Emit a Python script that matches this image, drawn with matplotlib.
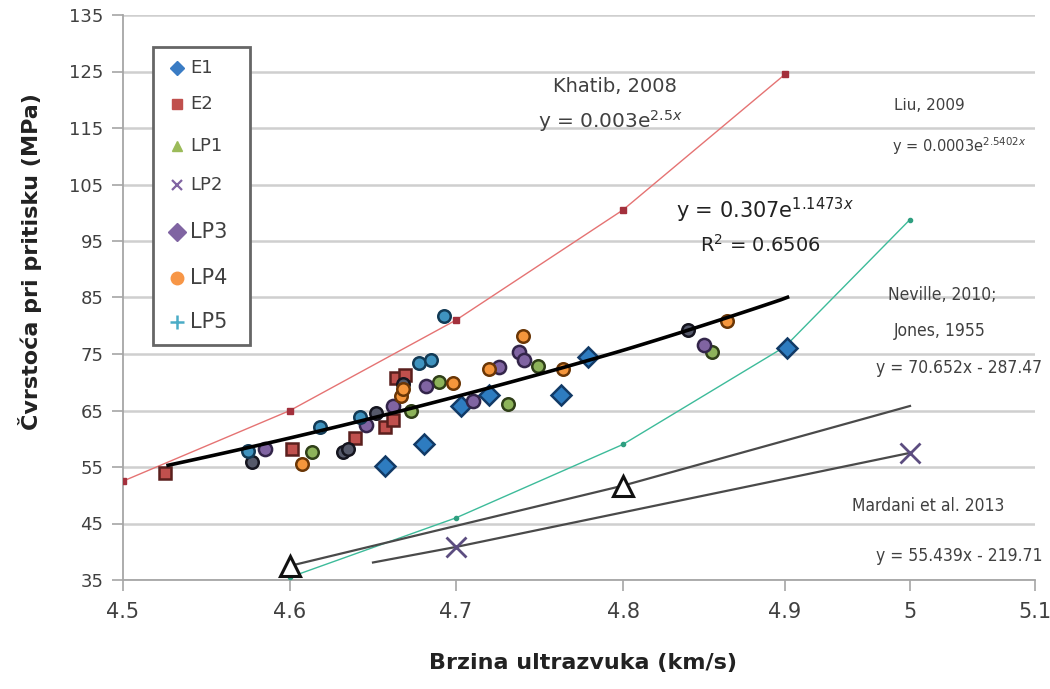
import matplotlib
matplotlib.use("Agg")
import matplotlib.pyplot as plt
from matplotlib.lines import Line2D
from matplotlib.patches import Rectangle
import numpy as np

# ---------------- data ----------------
e1_x = [4.657, 4.681, 4.703, 4.720, 4.763, 4.779, 4.902]
e1_y = [55.1, 59.0, 65.8, 67.7, 67.7, 74.5, 76.0]

e2_x = [4.525, 4.601, 4.639, 4.657, 4.662, 4.664, 4.669]
e2_y = [54.0, 58.1, 60.1, 62.0, 63.4, 70.8, 71.3]

lp1_x = [4.613, 4.673, 4.690, 4.731, 4.749, 4.855]
lp1_y = [57.6, 65.0, 70.0, 66.1, 72.8, 75.3]

lp2_x = [4.577, 4.632, 4.635, 4.652, 4.668, 4.840]
lp2_y = [55.8, 57.6, 58.1, 64.5, 69.7, 79.3]

lp3_x = [4.585, 4.646, 4.662, 4.682, 4.710, 4.726, 4.738, 4.741, 4.850]
lp3_y = [58.2, 62.5, 65.8, 69.4, 66.6, 72.7, 75.3, 73.9, 76.6]

lp4_x = [4.607, 4.667, 4.668, 4.698, 4.720, 4.740, 4.764, 4.864]
lp4_y = [55.5, 67.5, 68.8, 69.9, 72.4, 78.2, 72.3, 80.9]

lp5_x = [4.575, 4.618, 4.642, 4.678, 4.685, 4.693]
lp5_y = [57.8, 62.1, 63.9, 73.4, 74.0, 81.8]

khatib_x = [4.5, 4.6, 4.7, 4.8, 4.9]
khatib_y = [52.5, 65.0, 81.0, 100.5, 124.5]

liu_x = [4.6, 4.7, 4.8, 4.9, 5.0]
liu_y = [35.5, 46.0, 59.0, 76.3, 98.8]

neville_x = [4.6, 4.8, 5.0]
neville_y = [37.5, 51.7, 65.8]

mardani_x = [4.65, 4.7, 5.0]
mardani_y = [38.1, 40.85, 57.5]

trend_a, trend_b = 0.307, 1.1473
trend_x_range = [4.527, 4.902]

x_ticks = [4.5, 4.6, 4.7, 4.8, 4.9, 5.0, 5.1]
x_tick_labels = ["4.5", "4.6", "4.7", "4.8", "4.9", "5", "5.1"]
y_ticks = [35, 45, 55, 65, 75, 85, 95, 105, 115, 125, 135]

legend_labels = ["E1", "E2", "LP1", "LP2", "LP3", "LP4", "LP5"]

# ---------------- layout ----------------
W, H = 1050, 689
# horizontal axis of the original picture is not evenly spaced: tick pixel positions
x_scale_px = [123, 290, 456, 623, 785, 910, 1035]


def fx(px):
    return px / W


def fy(py):
    return 1 - py / H


def fwd(x):
    return np.interp(x, x_ticks, x_scale_px)


def inv(p):
    return np.interp(p, x_scale_px, x_ticks)


fig = plt.figure(figsize=(W/100, H/100), dpi=100)
ax = fig.add_axes([fx(123), fy(580), (1035-123)/W, (580-15)/H])
ax.set_xscale("function", functions=(fwd, inv))
ax.set_xlim(4.5, 5.1)
ax.set_ylim(35, 135)
ax.set_yticks(y_ticks)
ax.set_xticks(x_ticks)
ax.set_xticklabels(x_tick_labels)
ax.xaxis.set_minor_locator(matplotlib.ticker.NullLocator())
ax.yaxis.grid(True, color="#cfcfcf", linewidth=1.8)
ax.set_axisbelow(True)
for s in ["top", "right"]:
    ax.spines[s].set_visible(False)
for s in ["left", "bottom"]:
    ax.spines[s].set_color("#a6a6a6")
    ax.spines[s].set_linewidth(1.3)
ax.tick_params(axis="both", direction="out", length=8, width=1.2, color="#a6a6a6",
               labelcolor="#404040")
ax.tick_params(axis="y", labelsize=13, pad=6)
ax.tick_params(axis="x", labelsize=15, pad=8)

# reference curves
ax.plot(khatib_x, khatib_y, color="#e57373", lw=1.0, marker="s", ms=4,
        mfc="#a3303c", mec="#a3303c", zorder=3)
ax.plot(liu_x, liu_y, color="#3dbb9a", lw=1.0, marker="o", ms=3,
        mfc="#2f9f80", mec="#2f9f80", zorder=3)
ax.plot(neville_x, neville_y, color="#4a4a4a", lw=1.6, zorder=3)
ax.plot(neville_x[:2], neville_y[:2], ls="none", marker="^", ms=15, mfc="white",
        mec="#111111", mew=2.2, zorder=4)
ax.plot(mardani_x, mardani_y, color="#4a4a4a", lw=1.6, zorder=3)
ax.plot(mardani_x[1:], mardani_y[1:], ls="none", marker="x", ms=15, mec="#5c4d80",
        mew=2.0, zorder=4)

# measured data
series = [
    (e1_x, e1_y, "D", "#2e7cc0", "#123a66", 10),
    (e2_x, e2_y, "s", "#c0504d", "#5a1f1d", 9),
    (lp1_x, lp1_y, "o", "#8db35a", "#2f3f18", 9),
    (lp2_x, lp2_y, "o", "#55596a", "#15151f", 9),
    (lp3_x, lp3_y, "o", "#8064a2", "#33254a", 9.5),
    (lp4_x, lp4_y, "o", "#f5963c", "#6a3606", 9),
    (lp5_x, lp5_y, "o", "#3f93bf", "#123a55", 9),
]
for xs, ys, m, fc, ec, ms in series:
    ax.plot(xs, ys, ls="none", marker=m, ms=ms, mfc=fc, mec=ec, mew=1.8, zorder=5)

# trendline from the equation shown on the chart
tx = np.linspace(trend_x_range[0], trend_x_range[1], 80)
ax.plot(tx, trend_a*np.exp(trend_b*tx), color="black", lw=2.6, zorder=6)

# legend box (drawn by hand to follow the uneven row spacing of the original)
fig.add_artist(Rectangle((fx(153), fy(345)), (250-153)/W, (345-47)/H,
                         transform=fig.transFigure, facecolor="white",
                         edgecolor="#666666", linewidth=2.0, zorder=5))
leg_rows = [68, 104, 146, 185, 232, 278, 322]
leg_style = [
    dict(marker="D", ms=7, color="#3a7cc4", mew=1),
    dict(marker="s", ms=7, color="#c0504d", mew=1),
    dict(marker="^", ms=7, color="#9bbb59", mew=1),
    dict(marker="x", ms=7, color="#8064a2", mew=1.6),
    dict(marker="D", ms=9, color="#8064a2", mew=1),
    dict(marker="o", ms=9, color="#f79646", mew=1),
    dict(marker="+", ms=10, color="#4bacc6", mew=1.8),
]
leg_sizes = [13, 13, 13, 13, 15, 15, 15]
for lab, row, st, fs in zip(legend_labels, leg_rows, leg_style, leg_sizes):
    fig.add_artist(Line2D([fx(177)], [fy(row)], transform=fig.transFigure, ls="none",
                          marker=st["marker"], ms=st["ms"], mfc=st["color"],
                          mec=st["color"], mew=st["mew"], zorder=6))
    fig.text(fx(190), fy(row), lab, fontsize=fs, color="#404040", ha="left",
             va="center", zorder=7)

# annotations
tc = "#404040"
fig.text(fx(615), fy(87), "Khatib, 2008", fontsize=14, color=tc, ha="center", va="center")
fig.text(fx(610), fy(121), r"y = 0.003e$^{2.5x}$", fontsize=14.5, color=tc, ha="center", va="center")
fig.text(fx(894), fy(105), "Liu, 2009", fontsize=11, color=tc, ha="left", va="center")
fig.text(fx(892), fy(146), r"y = 0.0003e$^{2.5402x}$", fontsize=10.5, color=tc, ha="left", va="center")
fig.text(fx(765), fy(210), r"y = 0.307e$^{1.1473x}$", fontsize=15, color="#222222", ha="center", va="center")
fig.text(fx(760), fy(245), r"R$^2$ = 0.6506", fontsize=14, color="#222222", ha="center", va="center")
cond = dict(fontsize=12.5, color=tc, fontstretch="condensed")
fig.text(fx(942), fy(295), "Neville, 2010;", ha="center", va="center", **cond)
fig.text(fx(940), fy(331), "Jones, 1955", ha="center", va="center", **cond)
fig.text(fx(1042), fy(368), "y = 70.652x - 287.47", ha="right", va="center", **cond)
fig.text(fx(928), fy(506), "Mardani et al. 2013", ha="center", va="center", **cond)
fig.text(fx(1042), fy(556), "y = 55.439x - 219.71", ha="right", va="center", **cond)

fig.text(fx(30), fy(262), "Čvrstoća pri pritisku (MPa)", rotation=90, fontsize=16,
         fontweight="bold", color="#222222", ha="center", va="center")
fig.text(fx(583), fy(663), "Brzina ultrazvuka (km/s)", fontsize=16,
         fontweight="bold", color="#222222", ha="center", va="center")

fig.savefig("out.png", dpi=100)
